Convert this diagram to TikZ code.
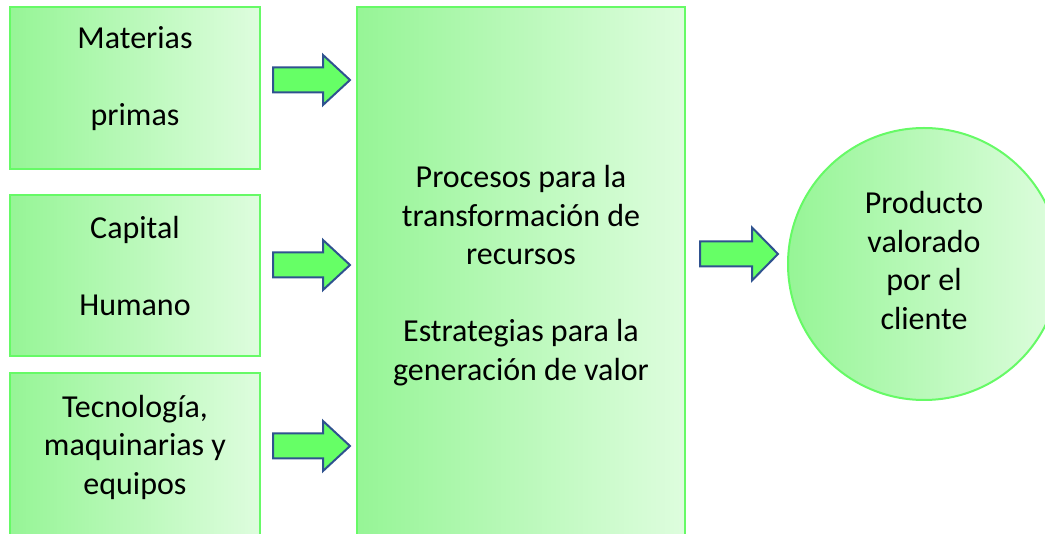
\documentclass[tikz,border=0pt]{standalone}
\usepackage{fontspec}
\setmainfont{Carlito}
\usetikzlibrary{calc}

\definecolor{boxleft}{RGB}{150,245,150}
\definecolor{boxright}{RGB}{222,253,222}
\definecolor{boxline}{RGB}{102,250,102}
\definecolor{arrowfill}{RGB}{102,255,102}
\definecolor{arrowline}{RGB}{47,82,143}

\tikzset{
  inbox/.style={rectangle, draw=boxline, line width=2pt, left color=boxleft, right color=boxright, inner sep=0pt},
  boxtext/.style={align=center, font=\fontsize{32}{38.5}\selectfont, inner sep=0pt},
  blockarrow/.style={draw=arrowline, fill=arrowfill, line width=2pt, line join=miter}
}

\begin{document}
\begin{tikzpicture}[x=1pt,y=-1pt]
    \useasboundingbox (0,0) rectangle (1045,534);

    \node[inbox, minimum width=250pt, minimum height=162pt] (mat) at (135,88) {};
    \node[inbox, minimum width=250pt, minimum height=161pt] (cap) at (135,275.5) {};
    \node[inbox, minimum width=250pt, minimum height=172pt] (tec) at (135,459) {};
    \node[inbox, minimum width=328pt, minimum height=538pt] (proc) at (521,276) {};
    \node[inbox, circle, minimum size=272pt] (prod) at (924,264) {};

    \node[boxtext] (matt) at (135,79) {Materias\\[38.5pt]primas};
    \node[boxtext] (capt) at (135,266) {Capital\\[38.5pt]Humano};
    \node[boxtext] (tect) at (135,447) {Tecnología,\\maquinarias y\\equipos};
    \node[boxtext] (proct) at (521,275.5) {Procesos para la\\transformación de\\recursos\\[38.5pt]Estrategias para la\\generación de valor};
    \node[boxtext] (prodt) at (924,260.5) {Producto\\valorado\\por el\\cliente};

    \foreach \src/\ay in {mat/80,cap/265,tec/446}
      \draw[blockarrow] ($(\src.east |- 0,\ay)+(12,12.5)$) -- ++(50,0) -- ++(0,12.5)
        -- ++(27,-25) -- ++(-27,-25) -- ++(0,12.5) -- ++(-50,0) -- cycle;

    \draw[blockarrow] ($(proc.east |- 0,254)+(14,12.5)$) -- ++(52,0) -- ++(0,14)
      -- ++(26,-26.5) -- ++(-26,-26.5) -- ++(0,14) -- ++(-52,0) -- cycle;
\end{tikzpicture}
\end{document}
